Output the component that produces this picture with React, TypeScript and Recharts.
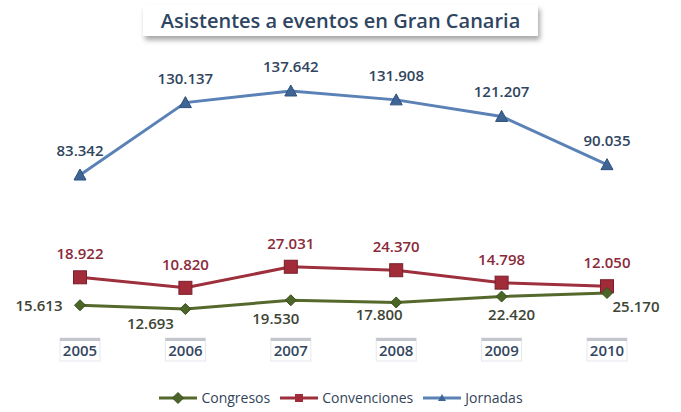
import { LineChart, Line, XAxis, YAxis, LabelList, Legend } from 'recharts';

const YEARS = ['2005', '2006', '2007', '2008', '2009', '2010'];
const JORNADAS = [83342, 130137, 137642, 131908, 121207, 90035];
const CONVENCIONES = [18922, 10820, 27031, 24370, 14798, 12050];
const CONGRESOS = [15613, 12693, 19530, 17800, 22420, 25170];

const data = YEARS.map((y, i) => ({
  year: y,
  jornadas: JORNADAS[i],
  convenciones: CONVENCIONES[i],
  congresos: CONGRESOS[i],
}));

const FONT = '"Open Sans", sans-serif';
const BLUE = '#5a82b6';
const RED = '#9e2f3c';
const GREEN = '#55692d';

// thousands with a dot, as in the original
const fmt = (v: number) => String(v).replace(/\B(?=(\d{3})+(?!\d))/g, '.');

// where each Congresos label sits relative to its point
const CONG_LABEL_SHIFT = [[-41, 1], [-35, 15], [-15, 19], [-17, 13], [10, 18], [29, 14]];

const Triangle = ({ cx, cy }: any) => (
  <path d={`M${cx},${cy - 6} L${cx + 6},${cy + 5} L${cx - 6},${cy + 5} Z`} fill="#3f6596" stroke="#2f4f7a" strokeWidth={1} />
);
const Square = ({ cx, cy }: any) => (
  <rect x={cx - 6.5} y={cy - 6.5} width={13} height={13} fill="#a12b38" stroke="#7a1f2a" strokeWidth={1} />
);
const Diamond = ({ cx, cy }: any) => (
  <path d={`M${cx},${cy - 5.5} L${cx + 5.5},${cy} L${cx},${cy + 5.5} L${cx - 5.5},${cy} Z`} fill="#4b6427" stroke="#3a4f1d" strokeWidth={1} />
);

function YearTick({ x, y, payload }: any) {
  return (
    <g>
      <rect x={x - 20} y={y} width={40} height={23} fill="#fff" stroke="#e3e7ee" strokeWidth={1} />
      <rect x={x - 20} y={y} width={40} height={3} fill="#c3c7cd" />
      <text x={x} y={y + 18} textAnchor="middle" fontFamily={FONT} fontSize={15} fontWeight={600} fill="#33465f">
        {payload.value}
      </text>
    </g>
  );
}

function CongLabel({ x, y, value, index }: any) {
  const [dx, dy] = CONG_LABEL_SHIFT[index];
  return (
    <text x={x + dx} y={y + dy + 5} textAnchor="middle" fontFamily={FONT} fontSize={15} fontWeight={600} fill="#3e4434">
      {fmt(value)}
    </text>
  );
}

const LEGEND_ITEMS = [
  { label: 'Congresos', color: GREEN, mark: 'diamond' },
  { label: 'Convenciones', color: RED, mark: 'square' },
  { label: 'Jornadas', color: BLUE, mark: 'triangle' },
];

function LegendContent() {
  return (
    <div style={{ display: 'flex', justifyContent: 'center', gap: 9, fontFamily: FONT, fontSize: 14, color: '#33445a' }}>
      {LEGEND_ITEMS.map(it => (
        <div key={it.label} style={{ display: 'flex', alignItems: 'center', gap: 3 }}>
          <svg width={40} height={12}>
            <line x1={1} y1={6} x2={39} y2={6} stroke={it.color} strokeWidth={3} />
            {it.mark === 'diamond' && <Diamond cx={20} cy={6} />}
            {it.mark === 'square' && <rect x={16} y={2} width={8} height={8} fill="#a12b38" />}
            {it.mark === 'triangle' && <path d="M20,2 L24,9 L16,9 Z" fill="#3f6596" />}
          </svg>
          <span>{it.label}</span>
        </div>
      ))}
    </div>
  );
}

export default function App() {
  return (
    <div style={{ position: 'absolute', left: 0, top: 0, width: 681, height: 412, background: '#fff' }}>
      <div style={{
        position: 'absolute', left: 143, top: 5, width: 395, height: 31,
        background: '#fff', boxShadow: '2px 4px 5px rgba(0,0,0,0.35)',
        fontFamily: FONT, fontSize: 20, fontWeight: 600, color: '#2f4561',
        textAlign: 'center', lineHeight: '31px', whiteSpace: 'nowrap',
      }}>
        Asistentes a eventos en Gran Canaria
      </div>
      <LineChart width={681} height={412} data={data} margin={{ top: 60, right: 21, left: 27, bottom: 52 }}>
        <XAxis dataKey="year" axisLine={false} tickLine={false} height={30} tick={<YearTick />} interval={0}
          padding={{ left: 53, right: 53 }} />
        <YAxis yAxisId="j" hide domain={[-16850, 157680]} />
        <YAxis yAxisId="c" hide domain={[-21617, 186075]} />
        <YAxis yAxisId="g" hide domain={[-3713, 207224]} />
        <Legend verticalAlign="middle" align="center" content={<LegendContent />}
          wrapperStyle={{ top: 388, left: 0, width: 681 }} />
        <Line yAxisId="j" dataKey="jornadas" stroke={BLUE} strokeWidth={3} dot={<Triangle />} isAnimationActive={false}>
          <LabelList dataKey="jornadas" position="top" offset={19} formatter={(v: any) => fmt(v)}
            style={{ fontFamily: FONT, fontSize: 15, fontWeight: 600, fill: '#2f4560' }} />
        </Line>
        <Line yAxisId="c" dataKey="convenciones" stroke={RED} strokeWidth={3} dot={<Square />} isAnimationActive={false}>
          <LabelList dataKey="convenciones" position="top" offset={18} formatter={(v: any) => fmt(v)}
            style={{ fontFamily: FONT, fontSize: 15, fontWeight: 600, fill: '#8a2a3a' }} />
        </Line>
        <Line yAxisId="g" dataKey="congresos" stroke={GREEN} strokeWidth={3} dot={<Diamond />} isAnimationActive={false}>
          <LabelList dataKey="congresos" content={<CongLabel />} />
        </Line>
      </LineChart>
    </div>
  );
}
